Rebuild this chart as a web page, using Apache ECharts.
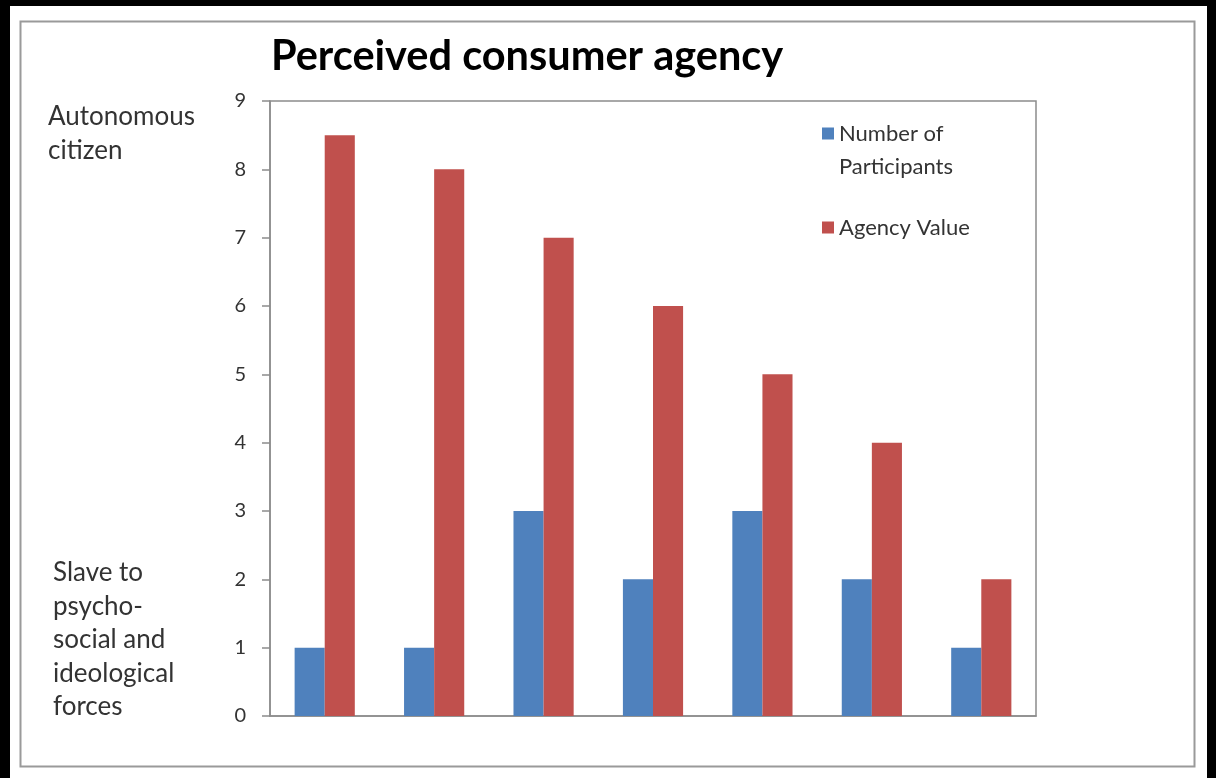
<!DOCTYPE html>
<html>
<head>
<meta charset="utf-8">
<script src="https://cdn.jsdelivr.net/npm/echarts@6/dist/echarts.min.js"></script>
<style>
html,body{margin:0;padding:0;background:#fff;}
#chart{width:1216px;height:778px;}
</style>
</head>
<body>
<div id="chart"></div>
<script>
const categories = ['1', '2', '3', '4', '5', '6', '7'];
const participants = [1, 1, 3, 2, 3, 2, 1];
const agencyValue = [8.5, 8, 7, 6, 5, 4, 2];
const yTicks = [0, 1, 2, 3, 4, 5, 6, 7, 8, 9];
const titleText = 'Perceived consumer agency';
const topNote = 'Autonomous\ncitizen';
const bottomNote = 'Slave to\npsycho-\nsocial and\nideological\nforces';

const FONT = 'Lato, "Open Sans", sans-serif';
const chart = echarts.init(document.getElementById('chart'), null, {renderer: 'canvas'});
chart.setOption({
  animation: false,
  backgroundColor: '#ffffff',
  title: {
    text: titleText,
    left: 266, top: 31,
    textStyle: {fontFamily: FONT, fontWeight: 'bold', fontSize: 41.5, color: '#000'}
  },
  legend: [
    {
      data: ['Number of Participants'],
      left: 822, top: 84, padding: 0, orient: 'vertical',
      itemWidth: 12, itemHeight: 12, icon: 'rect', itemGap: 8,
      formatter: () => ' \nNumber of\nParticipants',
      textStyle: {fontFamily: FONT, fontSize: 22, color: '#333', lineHeight: 33}
    },
    {
      data: ['Agency Value'],
      left: 822, top: 211, padding: 0,
      itemWidth: 12, itemHeight: 12, icon: 'rect', itemGap: 8,
      textStyle: {fontFamily: FONT, fontSize: 22, color: '#333', lineHeight: 33}
    }
  ],
  grid: {
    left: 270, right: 180, top: 101, bottom: 62,
    show: true, borderColor: '#8c8c8c', borderWidth: 1.5, backgroundColor: 'transparent'
  },
  xAxis: {
    type: 'category', data: categories,
    axisLine: {lineStyle: {color: '#8c8c8c', width: 1.5}},
    axisTick: {show: false},
    axisLabel: {show: false}
  },
  yAxis: {
    type: 'value', min: yTicks[0], max: yTicks[yTicks.length - 1], interval: 1,
    axisLine: {show: true, lineStyle: {color: '#8c8c8c', width: 1.5}},
    axisTick: {show: true, length: 8, lineStyle: {color: '#8c8c8c', width: 1.5}},
    splitLine: {show: false},
    axisLabel: {margin: 24, fontFamily: FONT, fontSize: 20, color: '#333'}
  },
  series: [
    {
      name: 'Number of Participants', type: 'bar', data: participants,
      barGap: '0%', barCategoryGap: '45%',
      itemStyle: {color: '#4F81BD'}
    },
    {
      name: 'Agency Value', type: 'bar', data: agencyValue,
      barGap: '0%', barCategoryGap: '45%',
      itemStyle: {color: '#C0504D'}
    }
  ],
  graphic: [
    {type: 'rect', z: 100, shape: {x: 0, y: 0, width: 1216, height: 6}, style: {fill: '#000'}},
    {type: 'rect', z: 100, shape: {x: 0, y: 0, width: 10, height: 778}, style: {fill: '#000'}},
    {type: 'rect', z: 100, shape: {x: 1207, y: 0, width: 9, height: 778}, style: {fill: '#000'}},
    {type: 'rect', z: 100, shape: {x: 20.5, y: 21.5, width: 1174, height: 745}, style: {fill: 'none', stroke: '#9a9a9a', lineWidth: 2}},
    {type: 'text', left: 48, top: 100, style: {text: topNote, fontFamily: FONT, fontSize: 26, lineHeight: 34, fill: '#333'}},
    {type: 'text', left: 53, top: 556, style: {text: bottomNote, fontFamily: FONT, fontSize: 26, lineHeight: 33.5, fill: '#333'}}
  ]
});
</script>
</body>
</html>
